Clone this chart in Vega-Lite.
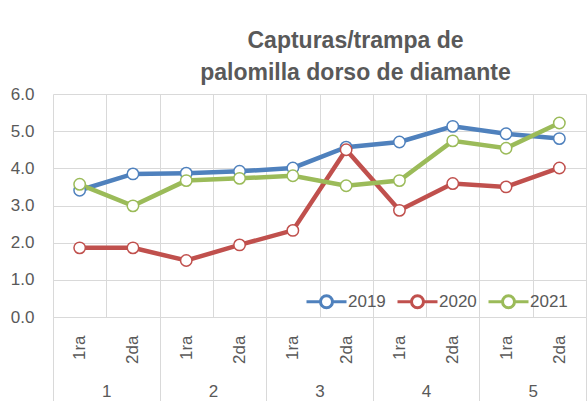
{
  "$schema": "https://vega.github.io/schema/vega-lite/v6.json",
  "width": 533,
  "height": 223,
  "autosize": {"type": "none"},
  "padding": {"left": 53, "top": 94, "right": 1, "bottom": 84},
  "background": "white",
  "config": {"view": {"stroke": null}, "font": "Liberation Sans"},
  "title": {
    "text": ["Capturas/trampa de", "palomilla dorso de diamante"],
    "font": "Liberation Sans",
    "fontSize": 23,
    "fontWeight": "bold",
    "color": "#595959",
    "lineHeight": 32,
    "anchor": "middle",
    "dx": 36,
    "offset": 0
  },
  "datasets": {
    "series": [
      {"key": "1-1ra", "year": "2019", "value": 3.41},
      {"key": "1-2da", "year": "2019", "value": 3.85},
      {"key": "2-1ra", "year": "2019", "value": 3.87},
      {"key": "2-2da", "year": "2019", "value": 3.92},
      {"key": "3-1ra", "year": "2019", "value": 4.01},
      {"key": "3-2da", "year": "2019", "value": 4.57},
      {"key": "4-1ra", "year": "2019", "value": 4.71},
      {"key": "4-2da", "year": "2019", "value": 5.13},
      {"key": "5-1ra", "year": "2019", "value": 4.93},
      {"key": "5-2da", "year": "2019", "value": 4.80},
      {"key": "1-1ra", "year": "2020", "value": 1.86},
      {"key": "1-2da", "year": "2020", "value": 1.86},
      {"key": "2-1ra", "year": "2020", "value": 1.52},
      {"key": "2-2da", "year": "2020", "value": 1.94},
      {"key": "3-1ra", "year": "2020", "value": 2.33},
      {"key": "3-2da", "year": "2020", "value": 4.50},
      {"key": "4-1ra", "year": "2020", "value": 2.87},
      {"key": "4-2da", "year": "2020", "value": 3.59},
      {"key": "5-1ra", "year": "2020", "value": 3.50},
      {"key": "5-2da", "year": "2020", "value": 4.01},
      {"key": "1-1ra", "year": "2021", "value": 3.57},
      {"key": "1-2da", "year": "2021", "value": 2.99},
      {"key": "2-1ra", "year": "2021", "value": 3.67},
      {"key": "2-2da", "year": "2021", "value": 3.73},
      {"key": "3-1ra", "year": "2021", "value": 3.80},
      {"key": "3-2da", "year": "2021", "value": 3.53},
      {"key": "4-1ra", "year": "2021", "value": 3.67},
      {"key": "4-2da", "year": "2021", "value": 4.74},
      {"key": "5-1ra", "year": "2021", "value": 4.54},
      {"key": "5-2da", "year": "2021", "value": 5.22}
    ],
    "groups": [{"grp": "1"}, {"grp": "2"}, {"grp": "3"}, {"grp": "4"}, {"grp": "5"}]
  },
  "layer": [
    {
      "data": {"name": "series"},
      "encoding": {
        "x": {
          "field": "key",
          "type": "ordinal",
          "scale": {"type": "band", "paddingInner": 0, "paddingOuter": 0},
          "axis": {
            "orient": "bottom",
            "title": null,
            "grid": true,
            "gridColor": "#D9D9D9",
            "gridWidth": 1,
            "tickBand": "extent",
            "ticks": false,
            "domain": true,
            "domainColor": "#D9D9D9",
            "domainWidth": 1,
            "labelAngle": -90,
            "labelPadding": 18,
            "labelFontSize": 17,
            "labelColor": "#595959",
            "labelExpr": "split(datum.label, '-')[1]"
          }
        },
        "y": {
          "field": "value",
          "type": "quantitative",
          "scale": {"domain": [0, 6], "nice": false},
          "axis": {
            "title": null,
            "values": [0, 1, 2, 3, 4, 5, 6],
            "format": ".1f",
            "grid": true,
            "gridColor": "#D9D9D9",
            "domain": false,
            "ticks": false,
            "labelPadding": 19,
            "labelFontSize": 17,
            "labelColor": "#595959"
          }
        },
        "color": {
          "field": "year",
          "type": "nominal",
          "scale": {"domain": ["2019", "2020", "2021"], "range": ["#4F81BD", "#C0504D", "#9BBB59"]},
          "legend": {
            "title": null,
            "orient": "none",
            "direction": "horizontal",
            "legendX": 252,
            "legendY": 186,
            "padding": 0,
            "symbolType": "M-1,0H-0.3M0.3,0H1M-0.3,0A0.3,0.3,0,1,1,0.3,0A0.3,0.3,0,1,1,-0.3,0Z",
            "symbolSize": 1600,
            "symbolStrokeWidth": 3,
            "symbolFillColor": "white",
            "labelFontSize": 17,
            "labelColor": "#595959",
            "labelOffset": 0,
            "columnPadding": 5
          }
        }
      },
      "layer": [
        {"mark": {"type": "line", "strokeWidth": 4.5}},
        {"mark": {"type": "point", "filled": false, "fill": "white", "fillOpacity": 1, "size": 130, "strokeWidth": 1.5, "opacity": 1}}
      ]
    },
    {
      "data": {"name": "groups"},
      "mark": {"type": "text", "text": ""},
      "encoding": {
        "x": {
          "field": "grp",
          "type": "ordinal",
          "scale": {"type": "band", "paddingInner": 0, "paddingOuter": 0},
          "axis": {
            "orient": "bottom",
            "title": null,
            "grid": false,
            "domain": false,
            "tickBand": "extent",
            "ticks": true,
            "tickSize": 84,
            "tickColor": "#D9D9D9",
            "labelAngle": 0,
            "labelPadding": -18,
            "labelFontSize": 17,
            "labelColor": "#595959"
          }
        }
      }
    }
  ],
  "resolve": {"scale": {"x": "independent"}}
}
